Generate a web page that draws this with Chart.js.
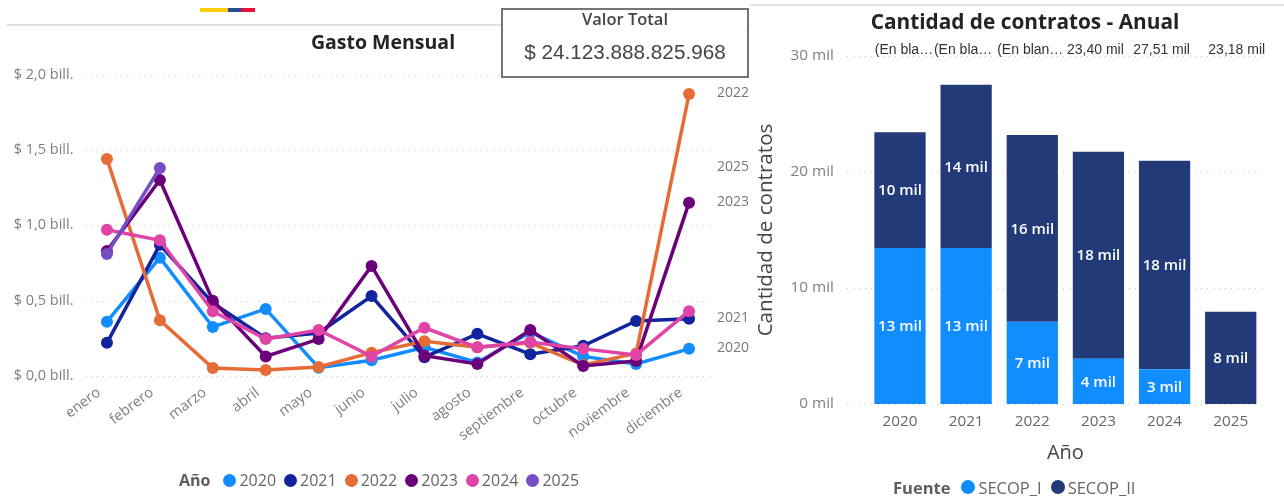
<!DOCTYPE html>
<html lang="es"><head><meta charset="utf-8">
<script src="https://cdn.jsdelivr.net/npm/chart.js@4/dist/chart.umd.min.js"></script>
<style>
html,body{margin:0;padding:0;background:#fff;width:1284px;height:498px;overflow:hidden;font-family:"Open Sans",sans-serif}
canvas{position:absolute;top:0}
.abs{position:absolute;white-space:nowrap}
.title{font-weight:700;color:#252423;font-size:19.5px;line-height:24px;transform:translateX(-50%)}
.rule{position:absolute;background:#e1e1e1;height:2px}
.flag{position:absolute;height:4px;top:8px}
.box{position:absolute;left:501px;top:8px;width:244px;height:66px;border:2px solid #757575;background:#fff;z-index:3;text-align:center;color:#444}
.box .h{font-size:16.5px;font-weight:600;line-height:18px;margin-top:0}
.box .v{font-family:"Liberation Sans",sans-serif;font-size:20.7px;line-height:24px;margin-top:12px}
.legend{position:absolute;display:flex;align-items:center;color:#666;white-space:nowrap;z-index:2}
.legend b{color:#605e5c}
.legend i{display:inline-block;border-radius:50%}
</style></head><body>
<div class="flag" style="left:200px;width:28px;background:#FFCD00"></div>
<div class="flag" style="left:228px;width:13px;background:#2C4A8E"></div>
<div class="flag" style="left:241px;width:14px;background:#E4123C"></div>
<div class="rule" style="left:7px;top:24px;width:743px"></div>
<div class="rule" style="left:750px;top:4px;width:534px"></div>
<canvas id="lineChart" width="750" height="498" style="left:0"></canvas>
<canvas id="barChart" width="534" height="498" style="left:750px"></canvas>
<div class="abs title" style="left:383px;top:30px">Gasto Mensual</div>
<div class="abs title" style="left:1025px;top:8px;font-size:20.8px;line-height:26px">Cantidad de contratos - Anual</div>
<div class="box"><div class="h">Valor Total</div><div class="v">$ 24.123.888.825.968</div></div>
<div class="legend" id="legLine" style="left:179px;top:470px;height:20px;font-size:16px"></div>
<div class="legend" id="legBar" style="left:893px;top:477px;height:20px;font-size:16.5px"></div>
<script>
const months = ["enero","febrero","marzo","abril","mayo","junio","julio","agosto","septiembre","octubre","noviembre","diciembre"];
const y2020 = [0.36,0.785,0.325,0.445,0.055,0.105,0.19,0.09,0.29,0.13,0.08,0.18];
const y2021 = [0.22,0.87,0.485,0.25,0.285,0.53,0.125,0.28,0.145,0.20,0.365,0.38];
const y2022 = [1.44,0.37,0.053,0.04,0.06,0.155,0.23,0.19,0.22,0.073,0.15,1.87];
const y2023 = [0.83,1.30,0.50,0.13,0.245,0.73,0.135,0.08,0.305,0.066,0.10,1.15];
const y2024 = [0.97,0.90,0.43,0.245,0.305,0.13,0.32,0.19,0.225,0.18,0.14,0.43];
const y2025 = [0.81,1.38];
const lineYears = ["2020","2021","2022","2023","2024","2025"];
const lineValues = [y2020,y2021,y2022,y2023,y2024,y2025];
const lineColors = ["#118DFF","#12239E","#E66C37","#6B007B","#E044A7","#744EC2"];
const endLabelled = ["2020","2021","2022","2023","2025"];
const moneyTicks = {0:"$ 0,0 bill.",0.5:"$ 0,5 bill.",1:"$ 1,0 bill.",1.5:"$ 1,5 bill.",2:"$ 2,0 bill."};

const barYears = ["2020","2021","2022","2023","2024","2025"];
const secop1 = [13.45,13.45,7.1,3.9,3.0,null];
const secop2 = [9.97,14.08,16.09,17.85,17.97,7.96];
const topLabels = ["(En bla…","(En bla…","(En blan…","23,40 mil","27,51 mil","23,18 mil"];
const barColors = ["#118DFF","#223A78"];

const TICK = "#7f7f7f", FONT = '"Open Sans",sans-serif';

const dottedGrid = {
  id:"dottedGrid",
  beforeDatasetsDraw(c,_,o){
    const g=c.ctx, s=c.scales.y;
    g.save(); g.strokeStyle="#c8c8c8"; g.lineWidth=1; g.setLineDash([1,5]);
    s.ticks.forEach(t=>{const y=Math.round(s.getPixelForValue(t.value))+.5;
      g.beginPath(); g.moveTo(o.from,y); g.lineTo(o.to,y); g.stroke();});
    g.restore();
  }
};
const endLabels = {
  id:"endLabels",
  afterDatasetsDraw(c){
    const g=c.ctx; g.save(); g.font='14px '+FONT; g.fillStyle="#777"; g.textBaseline="middle";
    c.data.datasets.forEach((d,i)=>{
      if(!endLabelled.includes(d.label)) return;
      const pts=c.getDatasetMeta(i).data, p=pts[pts.length-1];
      g.fillText(d.label, c.scales.x.right+1.5, p.y-1);
    });
    g.restore();
  }
};
const barLabels = {
  id:"barLabels",
  afterDatasetsDraw(c,_,o){
    const g=c.ctx; g.save(); g.textAlign="center"; g.textBaseline="middle";
    g.font='600 15px '+FONT; g.fillStyle="#fff";
    c.data.datasets.forEach((d,i)=>{
      c.getDatasetMeta(i).data.forEach((b,j)=>{
        if(d.data[j]==null) return;
        g.fillText(Math.round(d.data[j])+" mil", b.x, (b.y+b.base)/2+1);
      });
    });
    g.font='14px "Liberation Sans",sans-serif'; g.fillStyle="#333";
    c.getDatasetMeta(1).data.forEach((b,j)=>g.fillText(topLabels[j], b.x+o.shift[j], 50));
    g.restore();
  }
};

new Chart(document.getElementById("lineChart"),{
  type:"line",
  data:{labels:months,datasets:lineYears.map((y,i)=>({
    label:y,data:lineValues[i],borderColor:lineColors[i],backgroundColor:lineColors[i],
    borderWidth:3.5,pointRadius:6,pointBorderWidth:0,pointHoverRadius:6,tension:0,order:6-i,clip:false}))},
  options:{responsive:false,animation:false,
    layout:{padding:{top:74.5,left:0,right:34.5,bottom:50}},
    plugins:{legend:{display:false},title:{display:false},tooltip:{enabled:false},dottedGrid:{from:85,to:710}},
    scales:{
      x:{offset:true,grid:{display:false},border:{display:false},
        ticks:{color:TICK,font:{size:14.5,family:FONT},minRotation:37,maxRotation:37,autoSkip:false,padding:0,labelOffset:-8},
        afterFit(s){s.height=72}},
      y:{min:0,max:2,grid:{display:false,drawTicks:false},border:{display:false},
        ticks:{stepSize:.5,color:TICK,font:{size:14.5,family:FONT},padding:7,callback:v=>moneyTicks[v]},
        afterFit(s){s.width=80.5}}
    }},
  plugins:[dottedGrid,endLabels]
});

new Chart(document.getElementById("barChart"),{
  type:"bar",
  data:{labels:barYears,datasets:[
    {label:"SECOP_I",data:secop1,backgroundColor:barColors[0]},
    {label:"SECOP_II",data:secop2,backgroundColor:barColors[1]}]},
  options:{responsive:false,animation:false,
    datasets:{bar:{barPercentage:.775,categoryPercentage:1}},
    layout:{padding:{top:56,left:0,right:20.2,bottom:33}},
    plugins:{legend:{display:false},title:{display:false},tooltip:{enabled:false},dottedGrid:{from:97,to:517},barLabels:{shift:[4,-3,-2,-3,-3,6]}},
    scales:{
      x:{stacked:true,grid:{display:false},border:{display:false},
        ticks:{color:"#666",font:{size:15.3,family:FONT},padding:0},
        title:{display:true,text:"Año",color:"#444",font:{size:20,family:FONT},padding:{top:6,bottom:0}},
        afterFit(s){s.height=61}},
      y:{stacked:true,min:0,max:30,grid:{display:false,drawTicks:false},border:{display:false},
        ticks:{stepSize:10,color:TICK,font:{size:15.3,family:FONT},padding:33,callback:v=>v+" mil"},
        title:{display:true,text:"Cantidad de contratos",color:"#444",font:{size:20.6,family:FONT},padding:{top:4,bottom:0}},
        afterFit(s){s.width=116.9}}
    }},
  plugins:[dottedGrid,barLabels]
});

function legend(id,title,names,colors,size,gapIn,gapOut,first){
  const el=document.getElementById(id);
  el.innerHTML='<b style="margin-right:'+first+'px">'+title+'</b>'+names.map((n,i)=>
    '<i style="width:'+size+'px;height:'+size+'px;background:'+colors[i]+';margin-right:'+gapIn+'px;margin-left:'+(i?gapOut:0)+'px"></i><span>'+n+'</span>').join("");
}
legend("legLine","Año",lineYears,lineColors,13,3,8,13);
legend("legBar","Fuente",["SECOP_I","SECOP_II"],barColors,14,3,9,11);
</script>
</body></html>
